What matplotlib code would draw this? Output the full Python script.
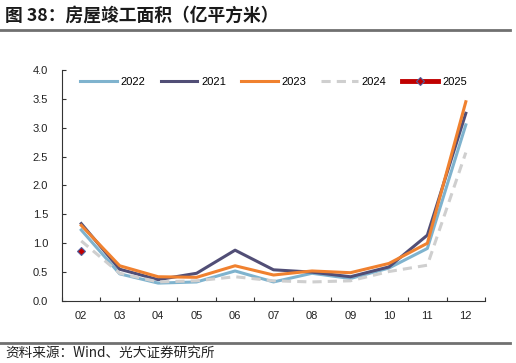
import matplotlib
matplotlib.use("Agg")
import matplotlib.pyplot as plt
from matplotlib.lines import Line2D

plt.rcParams['font.family'] = ['Liberation Sans', 'Noto Sans CJK SC', 'DejaVu Sans']

# -----------------------------
# Data
# -----------------------------
months = ["02", "03", "04", "05", "06", "07", "08", "09", "10", "11", "12"]
y2022 = [1.23, 0.47, 0.31, 0.33, 0.52, 0.33, 0.48, 0.39, 0.57, 0.91, 3.05]
y2021 = [1.34, 0.55, 0.37, 0.48, 0.88, 0.54, 0.50, 0.42, 0.59, 1.14, 3.25]
y2023 = [1.31, 0.61, 0.42, 0.41, 0.61, 0.45, 0.52, 0.49, 0.65, 1.00, 3.45]
y2024 = [1.04, 0.48, 0.33, 0.35, 0.42, 0.35, 0.33, 0.35, 0.51, 0.62, 2.57]
y2025 = [0.87]

x = list(range(len(months)))

# -----------------------------
# Figure
# -----------------------------
fig = plt.figure(figsize=(5.16, 3.63), dpi=100)
ax = fig.add_axes([0.1202, 0.1708, 0.8198, 0.6364])

ax.plot(x, y2022, color="#7FB3CE", lw=2.2, label="2022")
ax.plot(x, y2021, color="#514E76", lw=2.2, label="2021")
ax.plot(x, y2023, color="#F0812F", lw=2.2, label="2023")
ax.plot(x, y2024, color="#CFCFCF", lw=2.2, ls=(0, (3, 2)), label="2024")
ax.plot(x[:len(y2025)], y2025, color="#C00000", lw=3.0, marker="D", ms=4,
        markerfacecolor="#C00000", markeredgecolor="#5060A0", markeredgewidth=0.8,
        label="2025")

ax.set_xlim(-0.5, len(months) - 0.5)
ax.set_ylim(0, 4)
ax.set_yticks([0, 0.5, 1.0, 1.5, 2.0, 2.5, 3.0, 3.5, 4.0])
ax.set_yticklabels([f"{v:.1f}" for v in ax.get_yticks()])
ax.set_xticks(x)
ax.set_xticklabels(months)
ax.set_xticks([i - 0.5 for i in range(len(months) + 1)], minor=True)

for s in ["top", "right"]:
    ax.spines[s].set_visible(False)
for s in ["left", "bottom"]:
    ax.spines[s].set_color("#333333")
    ax.spines[s].set_linewidth(0.8)

ax.tick_params(axis="x", which="major", length=0, pad=7, labelsize=8, colors="#222222")
ax.tick_params(axis="x", which="minor", direction="in", length=3, width=0.8, color="#333333")
ax.tick_params(axis="y", direction="in", length=3, width=0.8, pad=10, labelsize=8,
               colors="#222222", color="#333333")

leg = ax.legend(loc="upper center", bbox_to_anchor=(0.5, 1.012), ncol=5, frameon=False,
                fontsize=8, handlelength=3.3, handletextpad=0.35, columnspacing=1.35)
for h in leg.get_lines():
    if h.get_label() == "2025":
        h.set_linewidth(3.5)

# -----------------------------
# Title / source with rules
# -----------------------------
fig.text(0.01, 0.958, "图 38：房屋竣工面积（亿平方米）", fontsize=12.8, fontweight="bold",
         family=["Noto Sans CJK SC", "DejaVu Sans"], color="#1a1a1a", va="center")
fig.add_artist(Line2D([0.0, 0.988], [0.916, 0.916], color="#707070", lw=2.0))
fig.add_artist(Line2D([0.0, 0.988], [0.056, 0.056], color="#707070", lw=2.0))
fig.text(0.01, 0.028, "资料来源：Wind、光大证券研究所", fontsize=9.8,
         family=["Noto Sans CJK SC", "DejaVu Sans"], color="#222222", va="center")

fig.savefig("out.png", dpi=100)
